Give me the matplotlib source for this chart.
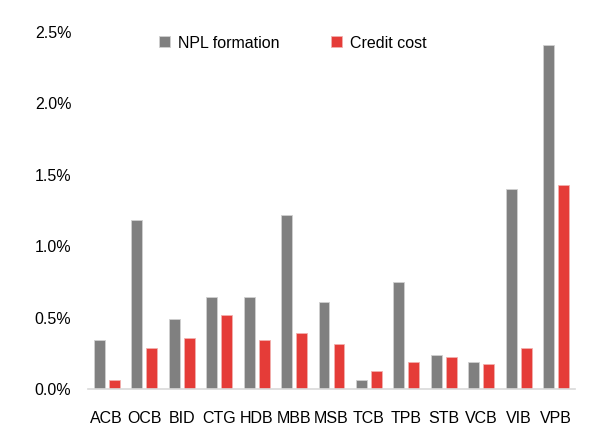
import numpy as np
import matplotlib
matplotlib.use("Agg")
import matplotlib.pyplot as plt
from matplotlib.ticker import FuncFormatter

plt.rcParams['font.family'] = ['Liberation Sans Narrow', 'Liberation Sans', 'DejaVu Sans']

# data (in %)
banks = ["ACB", "OCB", "BID", "CTG", "HDB", "MBB", "MSB", "TCB", "TPB", "STB", "VCB", "VIB", "VPB"]
npl_formation = [0.34, 1.18, 0.49, 0.645, 0.645, 1.22, 0.61, 0.06, 0.75, 0.24, 0.19, 1.40, 2.41]
credit_cost = [0.06, 0.29, 0.355, 0.52, 0.34, 0.39, 0.315, 0.125, 0.19, 0.225, 0.175, 0.29, 1.43]

x = np.arange(len(banks))
w = 0.29

fig = plt.figure(figsize=(5.98, 4.40), dpi=100)
ax = fig.add_axes([88/598, 1 - 389/440, (575-88)/598, (389-32)/440])

ax.bar(x - 0.2, npl_formation, w, color='#808080', edgecolor='#d0d0d0', linewidth=0.6, label='NPL formation')
ax.bar(x + 0.2, credit_cost, w, color='#e53c38', edgecolor='#f2b0ae', linewidth=0.6, label='Credit cost')

ax.set_xlim(-0.5, len(banks) - 0.5)
ax.set_ylim(0, 2.5)
ax.set_yticks([0, 0.5, 1.0, 1.5, 2.0, 2.5])
ax.yaxis.set_major_formatter(FuncFormatter(lambda v, p: f"{v:.1f}%"))
ax.set_xticks(x)
ax.set_xticklabels(banks)
ax.tick_params(axis='both', length=0, labelsize=11.5, colors='black')
ax.tick_params(axis='x', pad=16)
ax.tick_params(axis='y', pad=12)

for s in ['top', 'right', 'left']:
    ax.spines[s].set_visible(False)
ax.spines['bottom'].set_color('#d9d9d9')
ax.spines['bottom'].set_linewidth(1.2)

fig.legend(loc='center', bbox_to_anchor=(293/598, 1 - 43/440), ncol=2, frameon=False,
           fontsize=11.5, handlelength=0.7, handleheight=0.7, columnspacing=3.2, handletextpad=0.5)

fig.savefig("out.png", dpi=100)
